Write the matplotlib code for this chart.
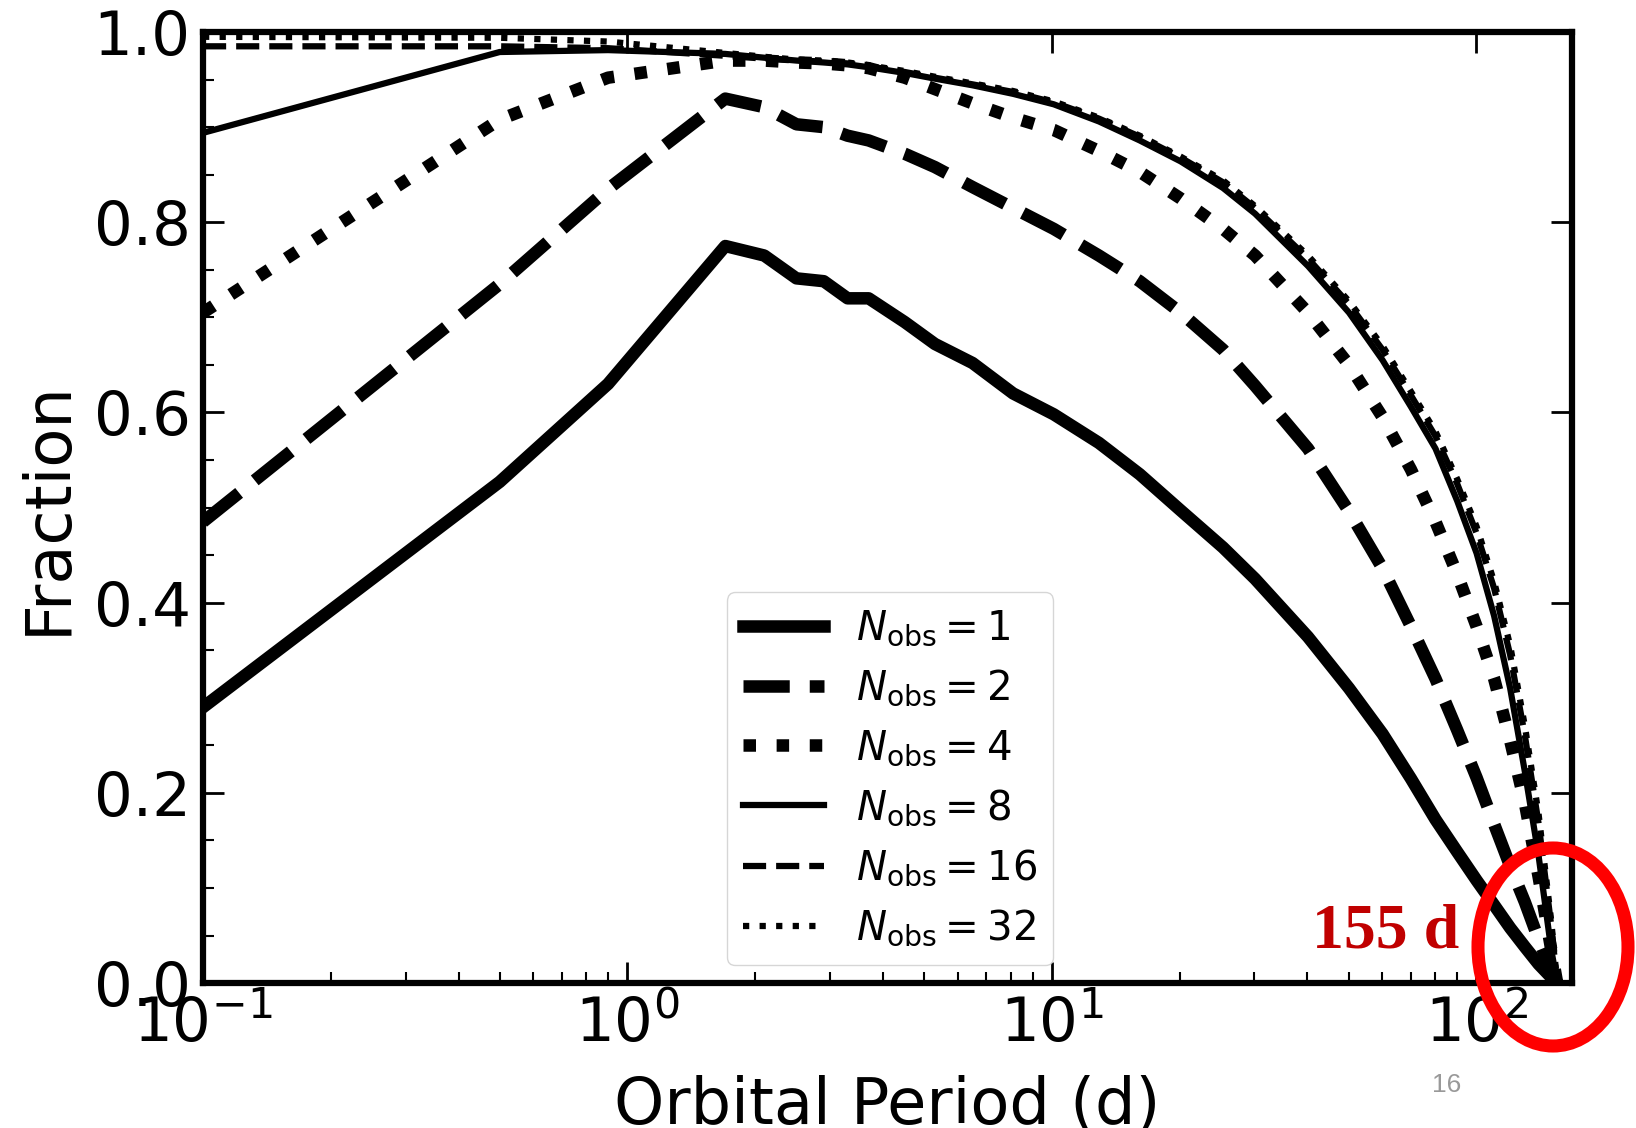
import matplotlib
matplotlib.use('Agg')
from matplotlib import pyplot as plt
from matplotlib.patches import Ellipse
from matplotlib.ticker import MultipleLocator

# orbital period grid (days) shared by all curves
period = [0.1, 0.5, 0.9, 1.7, 2.1, 2.5, 2.9, 3.3, 3.7, 4.5, 5.3, 6.5, 8.1, 10.1,
          12.9, 16.1, 20.1, 25.3, 30.1, 40.1, 50.1, 60.1, 70.1, 80.1, 90.1,
          100.1, 110.1, 120.1, 130.1, 140.1, 150.1, 155.0]

frac_n1 = [0.29, 0.527, 0.63, 0.775, 0.765, 0.741, 0.738, 0.72, 0.72, 0.695, 0.672,
           0.652, 0.62, 0.598, 0.568, 0.535, 0.497, 0.458, 0.425, 0.364, 0.31,
           0.262, 0.215, 0.172, 0.138, 0.108, 0.082, 0.058, 0.038, 0.02, 0.006, 0.0]
frac_n2 = [0.485, 0.735, 0.835, 0.93, 0.921, 0.903, 0.9, 0.891, 0.886, 0.872, 0.858,
           0.837, 0.815, 0.793, 0.765, 0.738, 0.705, 0.666, 0.628, 0.562, 0.496,
           0.436, 0.375, 0.32, 0.266, 0.216, 0.167, 0.123, 0.085, 0.046, 0.013, 0.0]
frac_n4 = [0.705, 0.908, 0.952, 0.97, 0.97, 0.968, 0.967, 0.965, 0.962, 0.952, 0.94,
           0.925, 0.91, 0.897, 0.875, 0.853, 0.825, 0.793, 0.765, 0.705, 0.65,
           0.595, 0.54, 0.485, 0.43, 0.375, 0.32, 0.255, 0.189, 0.112, 0.035, 0.0]
frac_n8 = [0.894, 0.979, 0.981, 0.977, 0.973, 0.97, 0.968, 0.966, 0.963, 0.957, 0.951,
           0.944, 0.935, 0.924, 0.906, 0.886, 0.864, 0.836, 0.809, 0.754, 0.705,
           0.655, 0.606, 0.562, 0.507, 0.452, 0.386, 0.31, 0.222, 0.134, 0.035, 0.0]
frac_n16 = [0.985, 0.985, 0.983, 0.975, 0.972, 0.97, 0.969, 0.967, 0.964, 0.958, 0.952,
            0.945, 0.937, 0.926, 0.909, 0.89, 0.868, 0.842, 0.815, 0.762, 0.714,
            0.666, 0.618, 0.575, 0.525, 0.473, 0.415, 0.345, 0.26, 0.168, 0.06, 0.0]
frac_n32 = [0.995, 0.994, 0.99, 0.978, 0.974, 0.971, 0.97, 0.968, 0.965, 0.959, 0.953,
            0.946, 0.938, 0.927, 0.91, 0.891, 0.869, 0.844, 0.817, 0.765, 0.717,
            0.67, 0.622, 0.58, 0.53, 0.48, 0.422, 0.355, 0.27, 0.178, 0.065, 0.0]

n_obs = [1, 2, 4, 8, 16, 32]
curves = [frac_n1, frac_n2, frac_n4, frac_n8, frac_n16, frac_n32]
styles = ['-', '--', ':', '-', '--', ':']
widths = [9, 9, 9, 4.5, 4.5, 4.5]

fig = plt.figure(figsize=(16.36, 11.28), dpi=100)
ax = fig.add_axes([0.1241, 0.1285, 0.8368, 0.8431])

for n, y, ls, lw in zip(n_obs, curves, styles, widths):
    ax.plot(period, y, color='black', ls=ls, lw=lw, label=r'$N_{\rm obs} = %d$' % n)

ax.set_xscale('log')
ax.set_xlim(0.1, 168)
ax.set_ylim(0, 1)
ax.yaxis.set_major_locator(MultipleLocator(0.2))
ax.yaxis.set_minor_locator(MultipleLocator(0.05))

for s in ax.spines.values():
    s.set_linewidth(4.5)
ax.tick_params(which='major', direction='in', length=15, width=2, labelsize=44,
               pad=9, top=True, right=True)
ax.tick_params(which='minor', direction='in', length=8, width=1.5,
               top=False, right=False)

ax.set_xlabel('Orbital Period (d)', fontsize=46)
ax.set_ylabel('Fraction', fontsize=46)
ax.xaxis.set_label_coords(0.5, -0.097)
ax.yaxis.set_label_coords(-0.091, 0.5)

ax.legend(loc='lower left', bbox_to_anchor=(0.383, 0.019), borderaxespad=0,
          fontsize=29, handlelength=2.0, labelspacing=0.48)

# slide annotation
fig.add_artist(Ellipse((1553 / 1636, 1 - 947 / 1128), 150 / 1636, 198 / 1128,
                       transform=fig.transFigure, fill=False, edgecolor='#ff0000',
                       lw=9.4))
fig.text(1312 / 1636, 1 - 947 / 1128, '155 d', color='#c00000', fontsize=46,
         fontweight='bold', family='Liberation Serif', ha='left', va='baseline')
fig.text(1447 / 1636, 1 - 1085 / 1128, '16', color='#999999', fontsize=19,
         family='Liberation Sans', ha='center', va='center')

fig.savefig('out.png', dpi=100)
